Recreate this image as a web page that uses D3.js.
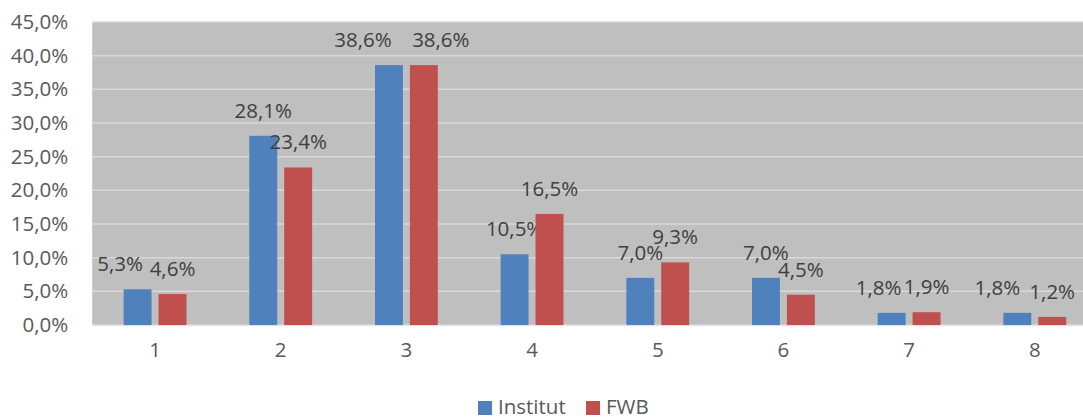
<!DOCTYPE html>
<html>
<head>
<meta charset="utf-8">
<script src="https://cdn.jsdelivr.net/npm/d3@7"></script>
<style>
  html, body { margin: 0; padding: 0; background: #fff; overflow: hidden; }
  svg { display: block; }
  text { font-family: "Open Sans", sans-serif; }
</style>
</head>
<body>
<svg id="chart" width="1083" height="417"></svg>
<script>
// Categories and series values (percent)
const categories = ["1", "2", "3", "4", "5", "6", "7", "8"];
const institut = [5.3, 28.1, 38.6, 10.5, 7.0, 7.0, 1.8, 1.8];
const fwb = [4.6, 23.4, 38.6, 16.5, 9.3, 4.5, 1.9, 1.2];
const seriesNames = ["Institut", "FWB"];
const yTicks = [0, 5, 10, 15, 20, 25, 30, 35, 40, 45];

// Horizontal nudges keeping neighbouring value labels apart
const labelNudge = [
  [-17.5, 0, -26, 0, 0, 0, -13, -20],
  [0, 0, 17, 0, 0, 0, 0, 0]
];

const colors = ["#4f81bd", "#c0504d"];
const plot = { left: 92.2, right: 1097.6, top: 22, bottom: 325 };

const svg = d3.select("#chart");

const locale = d3.formatLocale({ decimal: ",", thousands: ".", grouping: [3], currency: ["", "€"] });
const pct = v => locale.format(".1f")(v) + "%";

const x0 = d3.scaleBand()
  .domain(categories)
  .range([plot.left, plot.right])
  .paddingInner(0.5)
  .paddingOuter(0.25);

const x1 = d3.scaleBand()
  .domain(seriesNames)
  .range([0, x0.bandwidth()])
  .paddingInner(0.2);

const y = d3.scaleLinear()
  .domain([0, 45])
  .range([plot.bottom, plot.top]);

// Plot background
svg.append("rect")
  .attr("x", plot.left)
  .attr("y", plot.top)
  .attr("width", plot.right - plot.left)
  .attr("height", plot.bottom - plot.top)
  .attr("fill", "#bfbfbf");

// Gridlines
svg.append("g")
  .selectAll("line")
  .data(yTicks)
  .join("line")
  .attr("x1", plot.left)
  .attr("x2", plot.right)
  .attr("y1", d => y(d))
  .attr("y2", d => y(d))
  .attr("stroke", "#d9d9d9")
  .attr("stroke-width", 1.5);

// Y axis labels
const yAxis = svg.append("g")
  .attr("transform", `translate(${plot.left},0)`)
  .call(d3.axisLeft(y).tickValues(yTicks).tickFormat(pct).tickSize(0).tickPadding(24));
yAxis.select(".domain").remove();
yAxis.selectAll("text")
  .attr("fill", "#595959")
  .style("font-size", "20.5px")
  .style("font-family", "'Open Sans', sans-serif");

// X axis labels
const xAxis = svg.append("g")
  .attr("transform", `translate(0,${plot.bottom})`)
  .call(d3.axisBottom(x0).tickSize(0).tickPadding(17));
xAxis.select(".domain").remove();
xAxis.selectAll("text")
  .attr("fill", "#595959")
  .style("font-size", "20.5px")
  .style("font-family", "'Open Sans', sans-serif");

// Bars and value labels
const series = [institut, fwb];
series.forEach((vals, si) => {
  const g = svg.append("g");
  g.selectAll("rect")
    .data(vals)
    .join("rect")
    .attr("x", (d, i) => x0(categories[i]) + x1(seriesNames[si]))
    .attr("y", d => y(d))
    .attr("width", x1.bandwidth())
    .attr("height", d => y(0) - y(d))
    .attr("fill", colors[si]);

  g.selectAll("text")
    .data(vals)
    .join("text")
    .attr("x", (d, i) => x0(categories[i]) + x1(seriesNames[si]) + x1.bandwidth() / 2 + labelNudge[si][i])
    .attr("y", d => y(d) - 18)
    .attr("text-anchor", "middle")
    .attr("fill", "#404040")
    .style("font-size", "20.5px")
    .text(d => pct(d));
});

// Legend
const legend = svg.append("g").attr("transform", "translate(478,401)");
const legendX = [0, 108];
seriesNames.forEach((name, i) => {
  const item = legend.append("g").attr("transform", `translate(${legendX[i]},0)`);
  item.append("rect").attr("width", 14).attr("height", 14).attr("fill", colors[i]);
  item.append("text")
    .attr("x", 20)
    .attr("y", 13)
    .attr("fill", "#595959")
    .style("font-size", "20.5px")
    .text(name);
});
</script>
</body>
</html>
